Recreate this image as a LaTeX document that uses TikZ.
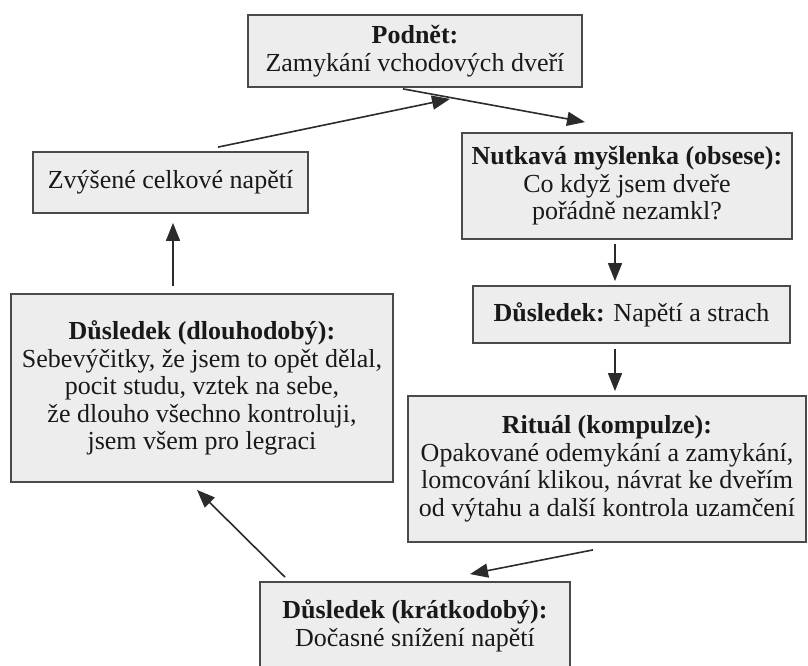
\documentclass[tikz,border=0pt]{standalone}
\usepackage{fontspec}
\setmainfont{Liberation Serif}
\usetikzlibrary{arrows.meta}
\definecolor{boxfill}{HTML}{ECEDEC}
\definecolor{boxline}{HTML}{4A4A4A}
\definecolor{arrline}{HTML}{2B2B2B}
\begin{document}
\begin{tikzpicture}[
  x=1pt, y=-1pt,
  box/.style={draw=boxline, line width=1.8pt, fill=boxfill, align=center,
    inner sep=3pt, font=\fontsize{26}{27.5}\selectfont, text=black!90},
  arr/.style={draw=arrline, line width=1.6pt,
    -{Triangle[length=18pt, width=14pt]}}
]
  \useasboundingbox (0,0) rectangle (808,666);
  \clip (0,0) rectangle (808,666);

  \node[box, minimum width=334pt, minimum height=72pt] (podnet) at (415,51)
    {\textbf{Podnět:}\\ Zamykání vchodových dveří};
  \node[box, minimum width=275pt, minimum height=61pt] (zvysene) at (170.5,182.5)
    {Zvýšené celkové napětí};
  \node[box, minimum width=330pt, minimum height=106pt] (nutkava) at (627,186)
    {\textbf{Nutkavá myšlenka (obsese):}\\ Co když jsem dveře\\ pořádně nezamkl?};
  \node[box, minimum width=317pt, minimum height=57pt] (napeti) at (631.5,314.5)
    {\textbf{Důsledek:} Napětí a strach};
  \node[box, minimum width=398pt, minimum height=146pt] (ritual) at (607,469)
    {\textbf{Rituál (kompulze):}\\ Opakované odemykání a zamykání,\\
     lomcování klikou, návrat ke dveřím\\ od výtahu a další kontrola uzamčení};
  \node[box, minimum width=382pt, minimum height=188pt] (dlouho) at (202,388)
    {\textbf{Důsledek (dlouhodobý):}\\ Sebevýčitky, že jsem to opět dělal,\\
     pocit studu, vztek na sebe,\\ že dlouho všechno kontroluji,\\ jsem všem pro legraci};
  \node[box, minimum width=310pt, minimum height=88pt] (kratko) at (415,626)
    {\textbf{Důsledek (krátkodobý):}\\ Dočasné snížení napětí};

  % cyklus
  \draw[arr] ([xshift=-12pt,yshift=-1pt]podnet.south) -- ([xshift=-42pt,yshift=10pt]nutkava.north);
  \draw[arr] ([xshift=-12pt,yshift=-4pt]nutkava.south) -- ([xshift=-16.5pt,yshift=4pt]napeti.north);
  \draw[arr] ([xshift=-16.5pt,yshift=-5pt]napeti.south) -- ([xshift=8pt,yshift=4pt]ritual.north);
  \draw[arr] ([xshift=-14pt,yshift=-7pt]ritual.south) -- ([xshift=55pt,yshift=7pt]kratko.north);
  \draw[arr] ([xshift=-130pt,yshift=4pt]kratko.north) -- ([xshift=-5pt,yshift=-7pt]dlouho.south);
  \draw[arr] ([xshift=-29pt,yshift=7pt]dlouho.north) -- ([xshift=2.5pt,yshift=-9pt]zvysene.south);
  \draw[arr] ([xshift=47.5pt,yshift=4pt]zvysene.north) -- ([xshift=35pt,yshift=-11pt]podnet.south);
\end{tikzpicture}
\end{document}
